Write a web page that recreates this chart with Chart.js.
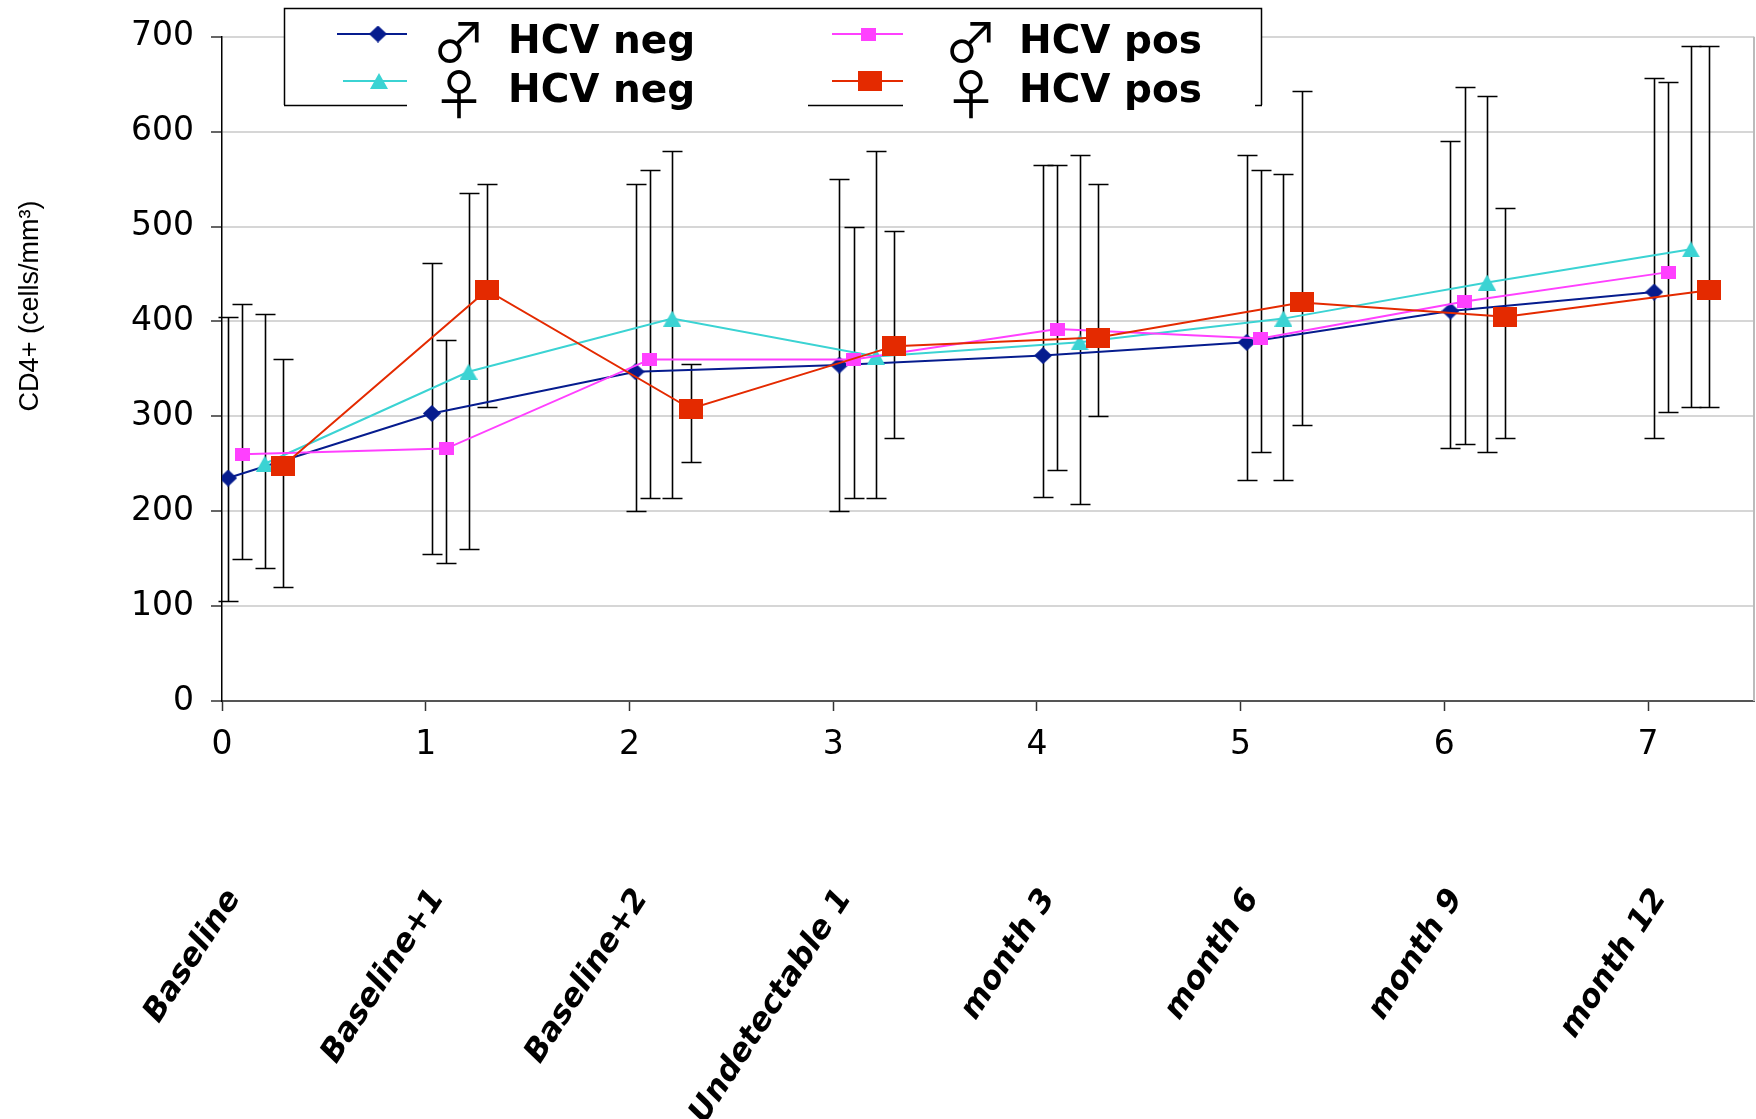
<!DOCTYPE html>
<html lang="en">
<head>
<meta charset="UTF-8">
<title>CD4+ by HCV status and sex</title>
<script src="https://cdn.jsdelivr.net/npm/chart.js@4.4.1/dist/chart.umd.min.js"></script>
<style>
    html, body { margin: 0; padding: 0; background: #fff; }
</style>
</head>
<body>
<canvas id="cd4Chart" width="1756" height="1119"></canvas>
<script>
    // time points (x = 0..7)
    var categories = ['Baseline', 'Baseline+1', 'Baseline+2', 'Undetectable 1', 'month 3', 'month 6', 'month 9', 'month 12'];

    // male, HCV negative
    var menNeg     = [235, 303, 347, 354, 364, 378, 411, 431];
    var menNegLow  = [105, 155, 200, 200, 215, 233, 267, 277];
    var menNegHigh = [405, 462, 545, 550, 565, 575, 590, 657];

    // male, HCV positive
    var menPos     = [260, 266, 360, 360, 392, 382, 421, 452];
    var menPosLow  = [150, 145, 214, 214, 243, 262, 271, 305];
    var menPosHigh = [418, 380, 560, 500, 565, 560, 647, 652];

    // female, HCV negative
    var womenNeg     = [250, 347, 403, 363, 378, 403, 441, 476];
    var womenNegLow  = [140, 160, 214, 214, 208, 233, 262, 310];
    var womenNegHigh = [408, 535, 580, 580, 575, 555, 638, 690];

    // female, HCV positive
    var womenPos     = [248, 433, 308, 374, 383, 420, 405, 433];
    var womenPosLow  = [120, 310, 252, 277, 300, 291, 277, 310];
    var womenPosHigh = [360, 545, 355, 495, 545, 643, 520, 690];

    var BLUE = '#061c8e', MAGENTA = '#ff40ff', CYAN = '#3bd3d3', RED = '#e42a00';

    function makeMarker(shape, w, h, color) {
        var c = document.createElement('canvas');
        c.width = w; c.height = h;
        var g = c.getContext('2d');
        g.fillStyle = color;
        g.beginPath();
        if (shape === 'rect') {
            g.rect(0, 0, w, h);
        } else if (shape === 'diamond') {
            g.moveTo(w / 2, 0); g.lineTo(w, h / 2); g.lineTo(w / 2, h); g.lineTo(0, h / 2);
        } else {
            g.moveTo(w / 2, 0); g.lineTo(w, h); g.lineTo(0, h);
        }
        g.closePath();
        g.fill();
        return c;
    }

    var mkBlue = makeMarker('diamond', 18, 17, BLUE);
    var mkMagenta = makeMarker('rect', 15, 13, MAGENTA);
    var mkCyan = makeMarker('triangle', 18, 16, CYAN);
    var mkRed = makeMarker('rect', 24, 20, RED);

    function points(values, shift) {
        return values.map(function (v, i) { return { x: i + shift, y: v }; });
    }

    function series(label, values, low, high, shift, color, marker) {
        return {
            label: label,
            data: points(values, shift),
            low: low,
            high: high,
            borderColor: color,
            borderWidth: 2,
            pointStyle: marker,
            pointRadius: 10,
            showLine: true,
            tension: 0
        };
    }

    // drawn on top first
    var datasets = [
        series('\u2640 HCV pos', womenPos, womenPosLow, womenPosHigh, 0.30, RED, mkRed),
        series('\u2642 HCV pos', menPos, menPosLow, menPosHigh, 0.10, MAGENTA, mkMagenta),
        series('\u2640 HCV neg', womenNeg, womenNegLow, womenNegHigh, 0.21, CYAN, mkCyan),
        series('\u2642 HCV neg', menNeg, menNegLow, menNegHigh, 0.03, BLUE, mkBlue)
    ];

    var errorBars = {
        id: 'errorBars',
        beforeDatasetsDraw: function (chart) {
            var ctx = chart.ctx, xs = chart.scales.x, ys = chart.scales.y;
            ctx.save();
            ctx.strokeStyle = '#000';
            ctx.lineWidth = 1.6;
            chart.data.datasets.forEach(function (ds) {
                ds.data.forEach(function (p, i) {
                    var px = Math.round(xs.getPixelForValue(p.x)) + 0.5;
                    var top = Math.round(ys.getPixelForValue(ds.high[i])) + 0.5;
                    var bot = Math.round(ys.getPixelForValue(ds.low[i])) + 0.5;
                    ctx.beginPath();
                    ctx.moveTo(px, top); ctx.lineTo(px, bot);
                    ctx.moveTo(px - 10, top); ctx.lineTo(px + 10, top);
                    ctx.moveTo(px - 10, bot); ctx.lineTo(px + 10, bot);
                    ctx.stroke();
                });
            });
            ctx.restore();
        }
    };

    var decorations = {
        id: 'decorations',
        afterDraw: function (chart) {
            var ctx = chart.ctx, xs = chart.scales.x, area = chart.chartArea;
            ctx.save();

            // right edge of plot area
            ctx.strokeStyle = '#bbbbbb';
            ctx.lineWidth = 2;
            ctx.beginPath();
            ctx.moveTo(area.right, area.top);
            ctx.lineTo(area.right, area.bottom);
            ctx.stroke();

            // y axis title
            ctx.save();
            ctx.translate(31, 306);
            ctx.rotate(-Math.PI / 2);
            ctx.fillStyle = '#000';
            ctx.font = '27px "Liberation Sans"';
            ctx.textAlign = 'center';
            ctx.textBaseline = 'middle';
            ctx.fillText('CD4+ (cells/mm\u00b3)', 0, 0);
            ctx.restore();

            // slanted time point names under the numeric axis
            ctx.fillStyle = '#000';
            ctx.font = 'italic bold 31.5px "DejaVu Sans"';
            ctx.textAlign = 'right';
            ctx.textBaseline = 'middle';
            categories.forEach(function (name, i) {
                ctx.save();
                ctx.translate(xs.getPixelForValue(i) + 12, 893);
                ctx.rotate(-57 * Math.PI / 180);
                ctx.fillText(name, 0, 0);
                ctx.restore();
            });

            // legend box
            ctx.fillStyle = '#fff';
            ctx.fillRect(284, 8, 978, 97);
            ctx.strokeStyle = '#000';
            ctx.lineWidth = 1.5;
            ctx.beginPath();
            ctx.moveTo(284.5, 105); ctx.lineTo(284.5, 8.5); ctx.lineTo(1261.5, 8.5); ctx.lineTo(1261.5, 105);
            ctx.moveTo(284, 105.5); ctx.lineTo(407, 105.5);
            ctx.moveTo(808, 105.5); ctx.lineTo(903, 105.5);
            ctx.moveTo(1255, 105.5); ctx.lineTo(1262, 105.5);
            ctx.stroke();

            var entries = [
                { x0: 337, x1: 407, mx: 378, gx: 459, tx: 508, row: 0, color: BLUE, marker: mkBlue, sym: '\u2642', text: 'HCV neg' },
                { x0: 343, x1: 407, mx: 379, gx: 459, tx: 508, row: 1, color: CYAN, marker: mkCyan, sym: '\u2640', text: 'HCV neg' },
                { x0: 832, x1: 903, mx: 868, gx: 971, tx: 1019, row: 0, color: MAGENTA, marker: mkMagenta, sym: '\u2642', text: 'HCV pos' },
                { x0: 832, x1: 903, mx: 870, gx: 971, tx: 1019, row: 1, color: RED, marker: mkRed, sym: '\u2640', text: 'HCV pos' }
            ];
            var lineY = [34, 81], textY = [53, 102], symY = [42, 94];
            entries.forEach(function (e) {
                var ly = lineY[e.row];
                ctx.strokeStyle = e.color;
                ctx.lineWidth = 2;
                ctx.beginPath();
                ctx.moveTo(e.x0, ly); ctx.lineTo(e.x1, ly);
                ctx.stroke();
                ctx.drawImage(e.marker, e.mx - e.marker.width / 2, ly - e.marker.height / 2);

                ctx.fillStyle = '#000';
                ctx.font = '54px "Noto Sans CJK JP"';
                ctx.textAlign = 'center';
                ctx.textBaseline = 'middle';
                ctx.fillText(e.sym, e.gx, symY[e.row]);

                ctx.font = 'bold 39px "DejaVu Sans"';
                ctx.textAlign = 'left';
                ctx.textBaseline = 'alphabetic';
                ctx.fillText(e.text, e.tx, textY[e.row]);
            });

            ctx.restore();
        }
    };

    new Chart(document.getElementById('cd4Chart').getContext('2d'), {
        type: 'scatter',
        data: { datasets: datasets },
        options: {
            responsive: false,
            animation: false,
            events: [],
            layout: { autoPadding: false, padding: { top: 34, right: 2, left: 0, bottom: 0 } },
            plugins: {
                legend: { display: false },
                tooltip: { enabled: false }
            },
            scales: {
                x: {
                    type: 'linear',
                    min: 0,
                    max: 7.52,
                    border: { color: '#555', width: 2 },
                    grid: { drawOnChartArea: false, tickLength: 10, tickColor: '#333', tickWidth: 1.5 },
                    ticks: {
                        stepSize: 1,
                        includeBounds: false,
                        maxRotation: 0,
                        color: '#000',
                        padding: 15,
                        font: { family: 'DejaVu Sans', size: 33 }
                    },
                    afterFit: function (scale) {
                        scale.height = 418;
                        scale.paddingLeft = 0;
                        scale.paddingRight = 0;
                    }
                },
                y: {
                    min: 0,
                    max: 700,
                    border: { color: '#000', width: 1.5 },
                    grid: { color: '#d6d6d6', lineWidth: 2, tickLength: 11, tickColor: '#333', tickWidth: 1.5 },
                    ticks: {
                        stepSize: 100,
                        color: '#000',
                        padding: 17,
                        font: { family: 'DejaVu Sans', size: 33 }
                    },
                    afterFit: function (scale) { scale.width = 222; }
                }
            }
        },
        plugins: [errorBars, decorations]
    });
</script>
</body>
</html>
